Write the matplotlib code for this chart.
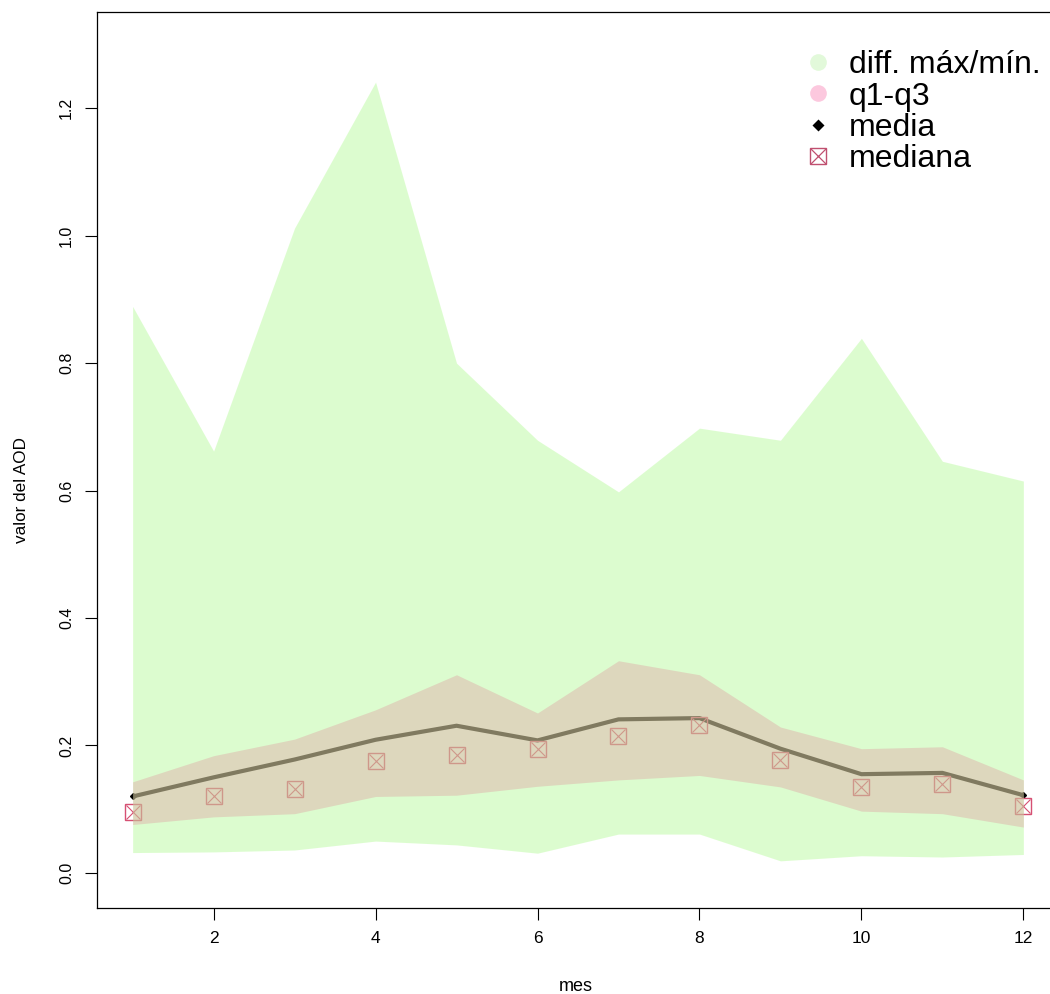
import numpy as np
import matplotlib
matplotlib.use("Agg")
import matplotlib.pyplot as plt
from matplotlib.lines import Line2D
from matplotlib.legend_handler import HandlerTuple

plt.rcParams['font.family'] = ['Liberation Sans', 'DejaVu Sans']

# monthly AOD statistics
mes = [1, 2, 3, 4, 5, 6, 7, 8, 9, 10, 11, 12]
maximo = [0.889, 0.662, 1.012, 1.241, 0.800, 0.679, 0.598, 0.698, 0.679, 0.839, 0.646, 0.615]
minimo = [0.032, 0.033, 0.036, 0.050, 0.044, 0.031, 0.061, 0.061, 0.019, 0.027, 0.025, 0.029]
q1 = [0.076, 0.088, 0.093, 0.120, 0.122, 0.136, 0.146, 0.153, 0.135, 0.097, 0.093, 0.072]
q3 = [0.143, 0.184, 0.210, 0.256, 0.311, 0.251, 0.333, 0.311, 0.229, 0.195, 0.198, 0.146]
media = [0.120, 0.150, 0.178, 0.209, 0.231, 0.208, 0.241, 0.243, 0.195, 0.155, 0.157, 0.122]
mediana = [0.096, 0.121, 0.132, 0.176, 0.185, 0.194, 0.215, 0.232, 0.177, 0.135, 0.139, 0.105]

verde = (154/255, 249/255, 115/255)
rosa = (223/255, 171/255, 168/255)
rojo = (214/255, 80/255, 115/255)

fig = plt.figure(figsize=(10.5, 9.94), dpi=100)
ax = fig.add_axes([97/1050, 86/994, 962/1050, 896/994])

# line and markers first, the bands are painted over them (semi-transparent)
ax.plot(mes, media, color='black', lw=3, zorder=1, solid_capstyle='butt')
ax.plot([mes[0], mes[-1]], [media[0], media[-1]], 'D', color='black', ms=3, zorder=1)
ax.plot(mes, mediana, 's', ms=11, mfc='none', mec=rojo, mew=1, zorder=1)
ax.plot(mes, mediana, 'x', ms=10, mec=rojo, mew=0.8, zorder=1)
ax.fill_between(mes, minimo, maximo, color=verde, alpha=0.336, lw=0, zorder=2)
ax.fill_between(mes, q1, q3, color=rosa, alpha=0.45, lw=0, zorder=3)

ax.set_xlim(0.56, 12.44)
ax.set_ylim(-0.055, 1.351)
ax.set_xticks([2, 4, 6, 8, 10, 12])
ax.set_yticks([0.0, 0.2, 0.4, 0.6, 0.8, 1.0, 1.2])
ax.set_yticklabels(['0.0', '0.2', '0.4', '0.6', '0.8', '1.0', '1.2'], rotation=90, va='center')
ax.tick_params(axis='both', length=8.6, width=0.8, direction='out')
ax.tick_params(axis='y', pad=8, labelsize=11.5)
ax.tick_params(axis='x', pad=8, labelsize=12.5)
for s in ax.spines.values():
    s.set_linewidth(0.9)
ax.spines['right'].set_visible(False)

fig.text(576/1050, 1 - 991/994, 'mes', ha='center', va='baseline', fontsize=13)
fig.text(22/1050, 1 - 490/994, 'valor del AOD', ha='center', va='center',
         rotation=90, fontsize=12.3)

h_med = (Line2D([], [], ls='none', marker='s', ms=12, mfc='none', mec='#C05070', mew=1),
         Line2D([], [], ls='none', marker='x', ms=11, mec='#C05070', mew=0.9))
handles = [
    Line2D([], [], ls='none', marker='o', ms=12, mfc='#E2F9DA', mec='none'),
    Line2D([], [], ls='none', marker='o', ms=12, mfc='#FCC8DE', mec='none'),
    Line2D([], [], ls='none', marker='D', ms=6, mfc='black', mec='none'),
    h_med,
]
leg = ax.legend(handles, ['diff. máx/mín.', 'q1-q3', 'media', 'mediana'],
                loc='upper left', bbox_to_anchor=(0.72, 0.975), frameon=False,
                fontsize=23, handlelength=0.8, handletextpad=0.55, labelspacing=0.04,
                borderpad=0, handler_map={tuple: HandlerTuple(ndivide=1, pad=0)})

plt.savefig('out.png', dpi=100)
